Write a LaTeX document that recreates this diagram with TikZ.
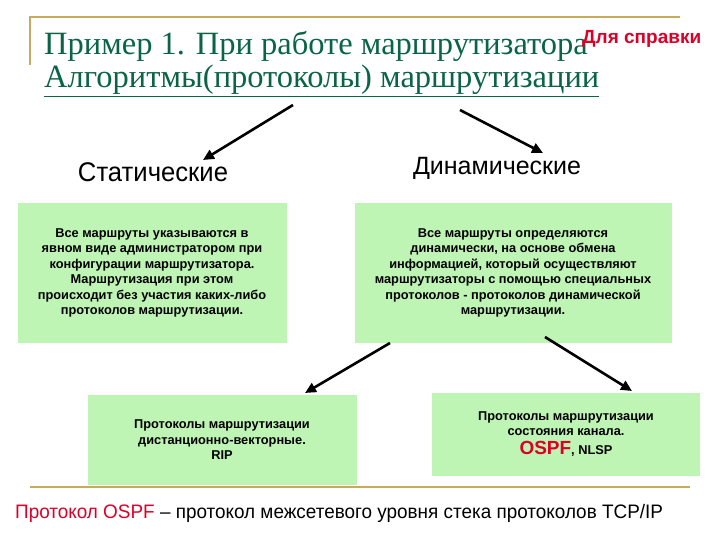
\documentclass[tikz,border=0pt]{standalone}
\usepackage{fontspec}
\setmainfont{Liberation Sans}
\newfontfamily\serifr{Liberation Serif}
\usetikzlibrary{arrows.meta}
\definecolor{ttl}{RGB}{10,100,70}
\definecolor{gold}{RGB}{200,170,90}
\definecolor{boxg}{RGB}{190,244,180}
\definecolor{redt}{RGB}{220,0,40}
\begin{document}
\begin{tikzpicture}[x=1pt,y=-1pt,
  box/.style={fill=boxg,draw=none,align=center,font=\bfseries\fontsize{12.8}{15.5}\selectfont,inner sep=2pt},
  arr/.style={-{Triangle[length=11pt,width=10pt]},line width=2.6pt}]
\useasboundingbox[fill=white] (0,0) rectangle (720,540);
\draw[gold,line width=1.5pt] (30,65) -- (30,17) -- (680,17);
\draw[gold,line width=1.5pt] (30,487) -- (690,487);
\node[anchor=base west,text=ttl,font=\serifr\fontsize{32.5}{36}\selectfont,inner sep=0] (t1) at (44,55) {Пример 1. При работе маршрутизатора};
\node[anchor=base west,text=ttl,font=\serifr\fontsize{32.5}{36}\selectfont,inner sep=0] (t2) at (44,88) {\underline{Алгоритмы(протоколы) маршрутизации}};
\node[anchor=base west,text=redt,font=\bfseries\fontsize{19}{22}\selectfont,inner sep=0] (ref) at (582,44) {Для справки};
\node[font=\fontsize{27}{30}\selectfont,xscale=0.95] (st) at (153,172) {Статические};
\node[font=\fontsize{25}{28}\selectfont] (dy) at (497,168) {Динамические};
\coordinate (a1) at (293,105); \coordinate (a2) at (460,110);
\coordinate (e1) at (203,160); \coordinate (e2) at (543,153);
\draw[arr] (a1) -- (e1);
\draw[arr] (a2) -- (e2);
\node[box,minimum width=269pt,minimum height=140pt] (b1) at (152,273) {Все маршруты указываются в\\явном виде администратором при\\конфигурации маршрутизатора.\\Маршрутизация при этом\\происходит без участия каких-либо\\протоколов маршрутизации.};
\node[box,minimum width=317pt,minimum height=140pt] (b2) at (513,273) {Все маршруты определяются\\динамически, на основе обмена\\информацией, который осуществляют\\маршрутизаторы с помощью специальных\\протоколов - протоколов динамической\\маршрутизации.};
\node[box,minimum width=269pt,minimum height=90pt] (b3) at (222,440) {Протоколы маршрутизации\\дистанционно-векторные.\\RIP};
\node[box,minimum width=268pt,minimum height=83pt] (b4) at (566,434) {Протоколы маршрутизации\\состояния канала.\\[3pt]{\color{redt}\fontsize{19}{20}\selectfont OSPF}, NLSP};
\coordinate (c1) at (390,343); \coordinate (c2) at (545,337);
\coordinate (f1) at (305,393); \coordinate (f2) at (632,391);
\draw[arr] (c1) -- (f1);
\draw[arr] (c2) -- (f2);
\node[anchor=base west,font=\fontsize{19.5}{22}\selectfont,inner sep=0,xscale=0.97] (bt) at (15,518) {{\color{redt}Протокол OSPF} – протокол межсетевого уровня стека протоколов TCP/IP};
\end{tikzpicture}
\end{document}
